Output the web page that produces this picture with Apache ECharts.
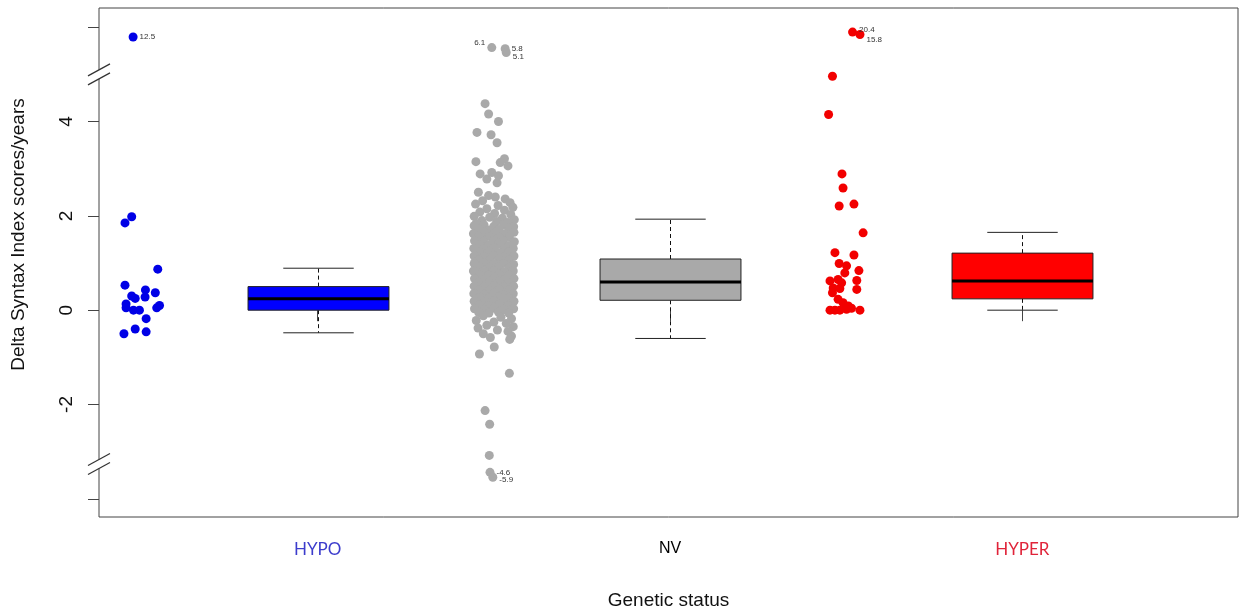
<!DOCTYPE html>
<html>
<head>
<meta charset="utf-8">
<script src="https://cdn.jsdelivr.net/npm/echarts@6/dist/echarts.min.js"></script>
<style>
html, body { margin: 0; background: #fff; }
#chart { width: 1239px; height: 616px; }
</style>
</head>
<body>
<div id="chart"></div>
<script>
var categories = ['HYPO', 'NV', 'HYPER'];

// each point: [value, horizontal jitter in category units]
var hypoPoints = [
  [1.85, -0.047], [1.98, -0.028], [0.87, 0.046], [0.53, -0.047], [0.43, 0.011],
  [0.37, 0.039], [0.30, -0.028], [0.25, -0.018], [0.28, 0.010], [0.13, -0.044],
  [0.05, -0.044], [0.00, -0.023], [0.00, -0.006], [0.10, 0.051], [0.05, 0.043],
  [-0.18, 0.013], [-0.50, -0.050], [-0.40, -0.018], [-0.46, 0.013], [12.5, -0.024]
];

var nvPoints = [
  [6.1, -0.006], [5.8, 0.032], [5.1, 0.035],
  [4.38, -0.025], [4.16, -0.015], [4.00, 0.013], [3.77, -0.048], [3.72, -0.008], [3.55, 0.009],
  [3.21, 0.030], [3.15, -0.051], [3.13, 0.018], [3.06, 0.040], [2.92, -0.006], [2.89, -0.039],
  [2.85, 0.013], [2.78, -0.020], [2.70, 0.009],
  [2.50, -0.044], [2.43, -0.015], [2.36, 0.032], [2.28, 0.046],
  [2.40, 0.004], [2.32, -0.032], [2.25, -0.052], [2.22, 0.012], [2.18, 0.054], [2.15, -0.020],
  [2.12, 0.030], [2.08, -0.040], [2.05, 0.002], [2.03, 0.048], [1.99, -0.056], [1.97, -0.012],
  [1.95, 0.024], [1.92, 0.058], [1.90, -0.034], [1.88, 0.008], [1.86, 0.040], [1.84, -0.050],
  [1.79, -0.056], [1.81, -0.028], [1.78, 0.000], [1.80, 0.028], [1.77, 0.056],
  [1.72, -0.042], [1.70, -0.014], [1.71, 0.014], [1.69, 0.042],
  [1.62, -0.058], [1.64, -0.027], [1.63, 0.002], [1.61, 0.029], [1.65, 0.057],
  [1.55, -0.043], [1.56, -0.013], [1.54, 0.015], [1.55, 0.044],
  [1.47, -0.055], [1.46, -0.029], [1.48, -0.001], [1.47, 0.027], [1.45, 0.058],
  [1.39, -0.041], [1.38, -0.015], [1.40, 0.013], [1.37, 0.043],
  [1.31, -0.057], [1.30, -0.028], [1.32, 0.001], [1.29, 0.028], [1.31, 0.055],
  [1.23, -0.042], [1.24, -0.014], [1.22, 0.014], [1.23, 0.041],
  [1.15, -0.056], [1.14, -0.027], [1.16, 0.000], [1.13, 0.029], [1.15, 0.057],
  [1.07, -0.043], [1.06, -0.013], [1.08, 0.015], [1.06, 0.042],
  [0.99, -0.056], [1.00, -0.028], [0.98, 0.001], [0.99, 0.027], [0.97, 0.056],
  [0.91, -0.042], [0.90, -0.014], [0.92, 0.013], [0.90, 0.043],
  [0.83, -0.058], [0.82, -0.028], [0.84, 0.000], [0.81, 0.028], [0.83, 0.055],
  [0.75, -0.041], [0.74, -0.015], [0.76, 0.014], [0.74, 0.042],
  [0.67, -0.055], [0.66, -0.027], [0.68, 0.001], [0.65, 0.029], [0.67, 0.057],
  [0.59, -0.043], [0.58, -0.014], [0.60, 0.014], [0.58, 0.041],
  [0.51, -0.056], [0.50, -0.028], [0.52, 0.000], [0.49, 0.028], [0.51, 0.056],
  [0.43, -0.042], [0.42, -0.013], [0.44, 0.015], [0.42, 0.043],
  [0.35, -0.057], [0.34, -0.028], [0.36, 0.001], [0.33, 0.027], [0.35, 0.055],
  [0.27, -0.041], [0.26, -0.014], [0.28, 0.013], [0.26, 0.042],
  [0.19, -0.056], [0.18, -0.027], [0.20, 0.000], [0.17, 0.028], [0.19, 0.057],
  [0.11, -0.042], [0.10, -0.015], [0.12, 0.014], [0.10, 0.041],
  [0.03, -0.055], [0.02, -0.028], [0.04, 0.001], [0.01, 0.029], [0.03, 0.056],
  [-0.05, -0.043], [-0.06, -0.014], [-0.04, 0.013], [-0.06, 0.042],
  [-0.12, -0.030], [-0.15, 0.020], [-0.18, 0.050], [-0.22, -0.050], [-0.25, 0.000],
  [-0.28, 0.035], [-0.32, -0.020], [-0.35, 0.055], [-0.38, -0.045], [-0.42, 0.010],
  [-0.45, 0.040], [-0.50, -0.030], [-0.55, 0.050], [-0.58, -0.010], [-0.62, 0.045],
  [-0.78, 0.001], [-0.93, -0.041], [-1.34, 0.044], [-2.13, -0.025], [-2.42, -0.012],
  [-3.08, -0.013], [-4.6, -0.011], [-5.9, -0.003]
];

var hyperPoints = [
  [20.4, 0.018], [15.8, 0.039], [4.96, -0.039], [4.15, -0.050], [2.89, -0.012],
  [2.59, -0.009], [2.21, -0.020], [2.25, 0.022], [1.64, 0.048], [1.22, -0.032],
  [1.17, 0.022], [0.99, -0.020], [0.94, 0.001], [0.84, 0.036], [0.79, -0.004],
  [0.62, -0.046], [0.65, -0.023], [0.58, -0.013], [0.63, 0.030], [0.47, -0.037],
  [0.46, -0.018], [0.44, 0.030], [0.37, -0.039], [0.23, -0.023], [0.16, -0.009],
  [0.09, 0.006], [0.00, -0.046], [0.00, -0.032], [0.00, -0.018], [0.02, 0.001],
  [0.04, 0.015], [0.00, 0.039]
];

// [lower whisker, Q1, median, Q3, upper whisker]
var boxStats = [
  [-0.48, 0.00, 0.24, 0.50, 0.89],
  [-0.60, 0.21, 0.60, 1.085, 1.93],
  [0.00, 0.24, 0.62, 1.21, 1.65]
];

var yTicks = [-4, -2, 0, 2, 4, 6];
var yLabels = [-2, 0, 2, 4];
var breakValues = [5.0, -3.26];

var pointColors = ['#0000e6', '#a9a9a9', '#f20000'];
var boxColors = ['#0000ff', '#a9a9a9', '#ff0000'];

var xMin = 0.3792, xMax = 3.612;
var yMin = -4.386, yMax = 6.408;

// values beyond the axis breaks get squeezed into the strip past the break
function shown(v) {
  if (v > 5) return 5.45 + 0.16 * Math.log(v - 4);
  if (v < -4) return -3.4 - 0.15 * Math.log(-v - 3.3);
  return v;
}

var outlierLabels = {
  '6.1': ['left', [0, -5]],
  '5.1': ['right', [0, 4]],
  '-5.9': ['right', [0, 3]],
  '20.4': ['right', [0, -2]],
  '15.8': ['right', [0, 5]]
};

var chart = echarts.init(document.getElementById('chart'));

var series = [hypoPoints, nvPoints, hyperPoints].map(function (pts, g) {
  return {
    type: 'scatter',
    symbolSize: 9,
    silent: true,
    itemStyle: { color: pointColors[g], opacity: 1 },
    data: pts.map(function (p) {
      var item = { value: [g + 0.5 + p[1], shown(p[0])] };
      if (p[0] > 5 || p[0] < -4) {
        var cfg = outlierLabels[String(p[0])] || ['right', [0, 0]];
        item.label = {
          show: true, position: cfg[0], offset: cfg[1], distance: 2,
          formatter: String(p[0]), fontSize: 8, color: '#333',
          fontFamily: 'Liberation Sans'
        };
      }
      return item;
    })
  };
});

series.push({
  type: 'custom',
  clip: false,
  silent: true,
  data: boxStats.map(function (s, i) { return [i + 1].concat(s); }),
  encode: { x: 0, y: [1, 2, 3, 4, 5] },
  renderItem: function (params, api) {
    var x = api.value(0);
    var low = api.coord([x, api.value(1)]);
    var q1 = api.coord([x, api.value(2)]);
    var med = api.coord([x, api.value(3)]);
    var q3 = api.coord([x, api.value(4)]);
    var high = api.coord([x, api.value(5)]);
    var w = api.size([0.4, 0])[0];
    var cx = Math.round(q1[0]) + 0.5;
    var dashed = { stroke: '#111', lineWidth: 1, lineDash: [4, 3] };
    var solid = { stroke: '#222', lineWidth: 1 };
    return {
      type: 'group',
      children: [
        { type: 'line', shape: { x1: cx, y1: q3[1], x2: cx, y2: high[1] }, style: dashed },
        { type: 'line', shape: { x1: cx, y1: q1[1], x2: cx, y2: low[1] }, style: dashed },
        { type: 'line', shape: { x1: cx - w / 4, y1: high[1], x2: cx + w / 4, y2: high[1] }, style: solid },
        { type: 'line', shape: { x1: cx - w / 4, y1: low[1], x2: cx + w / 4, y2: low[1] }, style: solid },
        { type: 'rect', shape: { x: cx - w / 2, y: q3[1], width: w, height: q1[1] - q3[1] },
          style: { fill: boxColors[params.dataIndex], stroke: '#222', lineWidth: 1 } },
        { type: 'line', shape: { x1: cx - w / 2, y1: med[1], x2: cx + w / 2, y2: med[1] },
          style: { stroke: '#000', lineWidth: 3 } }
      ]
    };
  }
});

series.push({
  type: 'custom',
  clip: false,
  silent: true,
  z: 10,
  data: breakValues.map(function (v) { return [xMin, v]; }),
  renderItem: function (params, api) {
    var p = api.coord([api.value(0), api.value(1)]);
    var st = { stroke: '#333', lineWidth: 1.2 };
    return {
      type: 'group',
      children: [
        { type: 'rect', shape: { x: p[0] - 3, y: p[1] - 4.5, width: 6, height: 9 }, style: { fill: '#fff' } },
        { type: 'line', shape: { x1: p[0] - 11, y1: p[1] + 1.5, x2: p[0] + 11, y2: p[1] - 10.5 }, style: st },
        { type: 'line', shape: { x1: p[0] - 11, y1: p[1] + 10.5, x2: p[0] + 11, y2: p[1] - 1.5 }, style: st }
      ]
    };
  }
});

var option = {
  animation: false,
  backgroundColor: '#fff',
  grid: {
    left: 99, right: 1, top: 8, bottom: 99,
    show: true, borderColor: '#444', borderWidth: 1
  },
  xAxis: {
    type: 'value',
    min: xMin,
    max: xMax,
    axisLine: { show: false },
    splitLine: { show: false },
    axisTick: { customValues: [1, 2, 3], length: 11, lineStyle: { color: '#444' } },
    axisLabel: {
      customValues: [1, 2, 3],
      margin: 24,
      formatter: function (v) {
        var i = Math.round(v) - 1;
        return '{c' + i + '|' + categories[i] + '}';
      },
      rich: {
        c0: { color: '#3c3ccc', fontFamily: 'Lato', fontSize: 17 },
        c1: { color: '#000', fontFamily: 'Liberation Sans', fontSize: 16 },
        c2: { color: '#e0243a', fontFamily: 'Lato', fontSize: 17 }
      }
    },
    name: 'Genetic status',
    nameLocation: 'middle',
    nameGap: 74,
    nameTextStyle: { fontSize: 19, fontFamily: 'Liberation Sans', color: '#111' }
  },
  yAxis: {
    type: 'value',
    min: yMin,
    max: yMax,
    axisLine: { show: false },
    splitLine: { show: false },
    axisTick: { customValues: yTicks, length: 11, lineStyle: { color: '#444' } },
    axisLabel: {
      customValues: yLabels,
      rotate: 90,
      margin: 23,
      fontSize: 19,
      fontFamily: 'Liberation Sans',
      color: '#111'
    },
    name: 'Delta Syntax Index scores/years',
    nameLocation: 'middle',
    nameGap: 71,
    nameTextStyle: { fontSize: 19, fontFamily: 'Liberation Sans', color: '#111', padding: [0, 0, 0, 56] }
  },
  series: series
};

chart.setOption(option);
</script>
</body>
</html>
